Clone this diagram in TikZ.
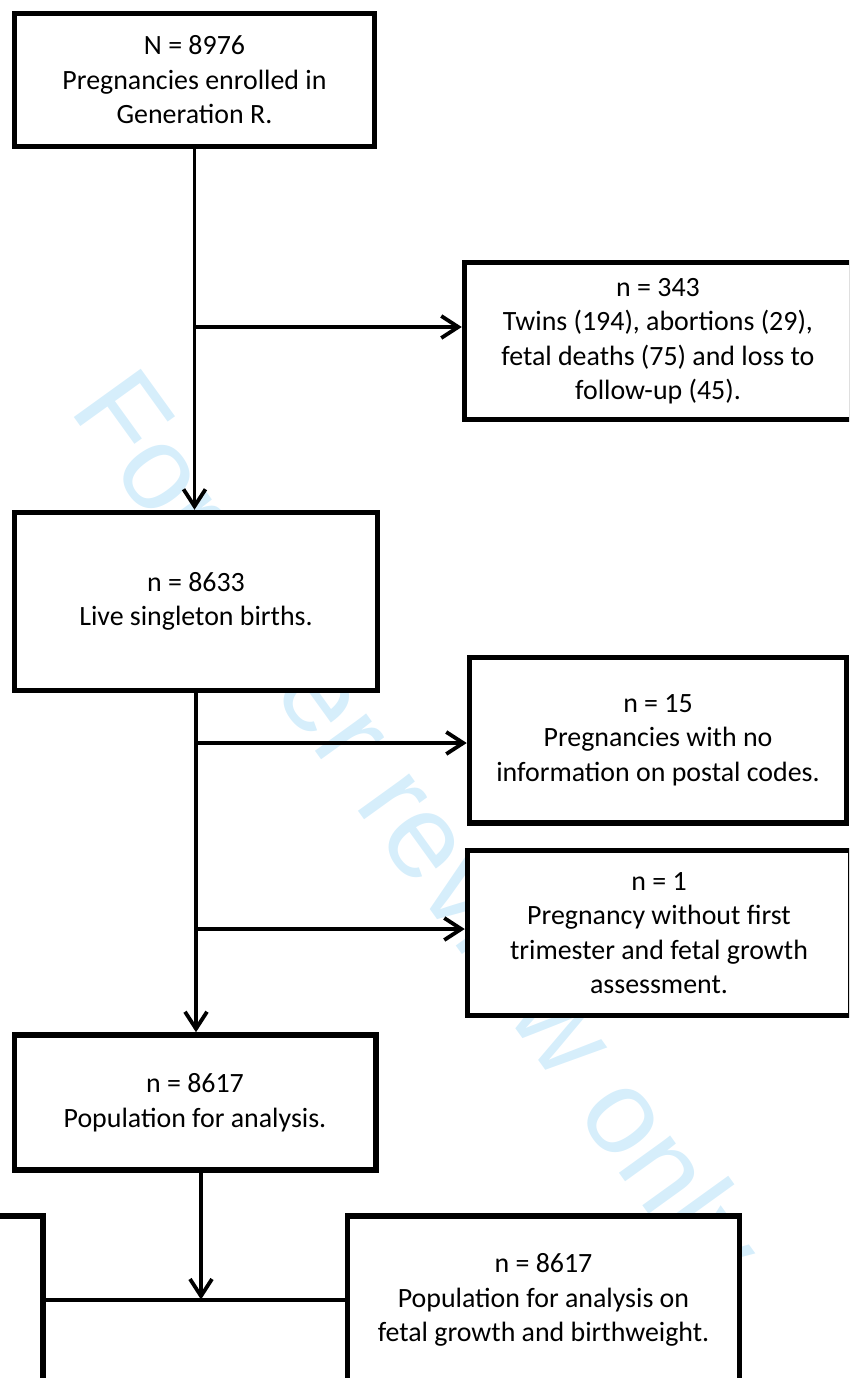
\documentclass[tikz,border=0pt]{standalone}
\usepackage{fontspec}
\setmainfont{Carlito}
\newfontfamily\markfont{Liberation Sans}
\usetikzlibrary{arrows.meta}

\definecolor{markblue}{RGB}{214,238,251}

\begin{document}
\begin{tikzpicture}[x=1pt,y=-1pt,
  flowbox/.style={draw,line width=5.5pt,fill=white,align=center,inner sep=0pt,
    font=\fontsize{27.9}{34.5}\selectfont},
  link/.style={line width=3.8pt},
  arr/.style={link,-{Straight Barb[length=17pt,width=22pt]}}]
\useasboundingbox (0,0) rectangle (849,1378);
\clip (0,0) rectangle (849,1378);

% watermark behind the boxes
\node[text=markblue,rotate=-54.2,font=\markfont\fontsize{120}{144}\selectfont] (mark) at (412,832) {For peer review only};

% main column
\node[flowbox,minimum width=360pt,minimum height=133pt] (enrol) at (194.5,80) {N = 8976\\Pregnancies enrolled in\\Generation R.};
\node[flowbox,minimum width=363pt,minimum height=178pt] (live) at (196,601.5) {n = 8633\\Live singleton births.};
\node[flowbox,minimum width=361.5pt,minimum height=135pt] (pop) at (195,1102.5) {n = 8617\\Population for analysis.};

% exclusions
\node[flowbox,minimum width=387pt,minimum height=157pt] (twins) at (658,341) {n = 343\\Twins (194), abortions (29),\\fetal deaths (75) and loss to\\follow-up (45).};
\node[flowbox,minimum width=377pt,minimum height=165.5pt] (postal) at (658,740) {n = 15\\Pregnancies with no\\information on postal codes.};
\node[flowbox,minimum width=383pt,minimum height=165pt] (nogrowth) at (659,933) {n = 1\\Pregnancy without first\\trimester and fetal growth\\assessment.};

% bottom row
\node[flowbox,minimum width=392pt,minimum height=168pt] (other) at (-153,1300) {};
\node[flowbox,minimum width=392pt,minimum height=168pt] (fetal) at (543.5,1300) {n = 8617\\Population for analysis on\\fetal growth and birthweight.};

\coordinate (lvl1) at (0,327);
\coordinate (lvl2) at (0,743);
\coordinate (lvl3) at (0,929);
\coordinate (merge) at (201,1299.5);

\draw[arr] (enrol.south) -- (enrol.south |- live.north);
\draw[arr] (enrol.south |- lvl1) -- (twins.west |- lvl1);
\draw[arr] (live.south) -- (live.south |- pop.north);
\draw[arr] (live.south |- lvl2) -- (postal.west |- lvl2);
\draw[arr] (live.south |- lvl3) -- (nogrowth.west |- lvl3);
\draw[link] (other.east) -- (fetal.west);
\draw[arr] (pop.south -| merge) -- (merge);
\end{tikzpicture}
\end{document}
